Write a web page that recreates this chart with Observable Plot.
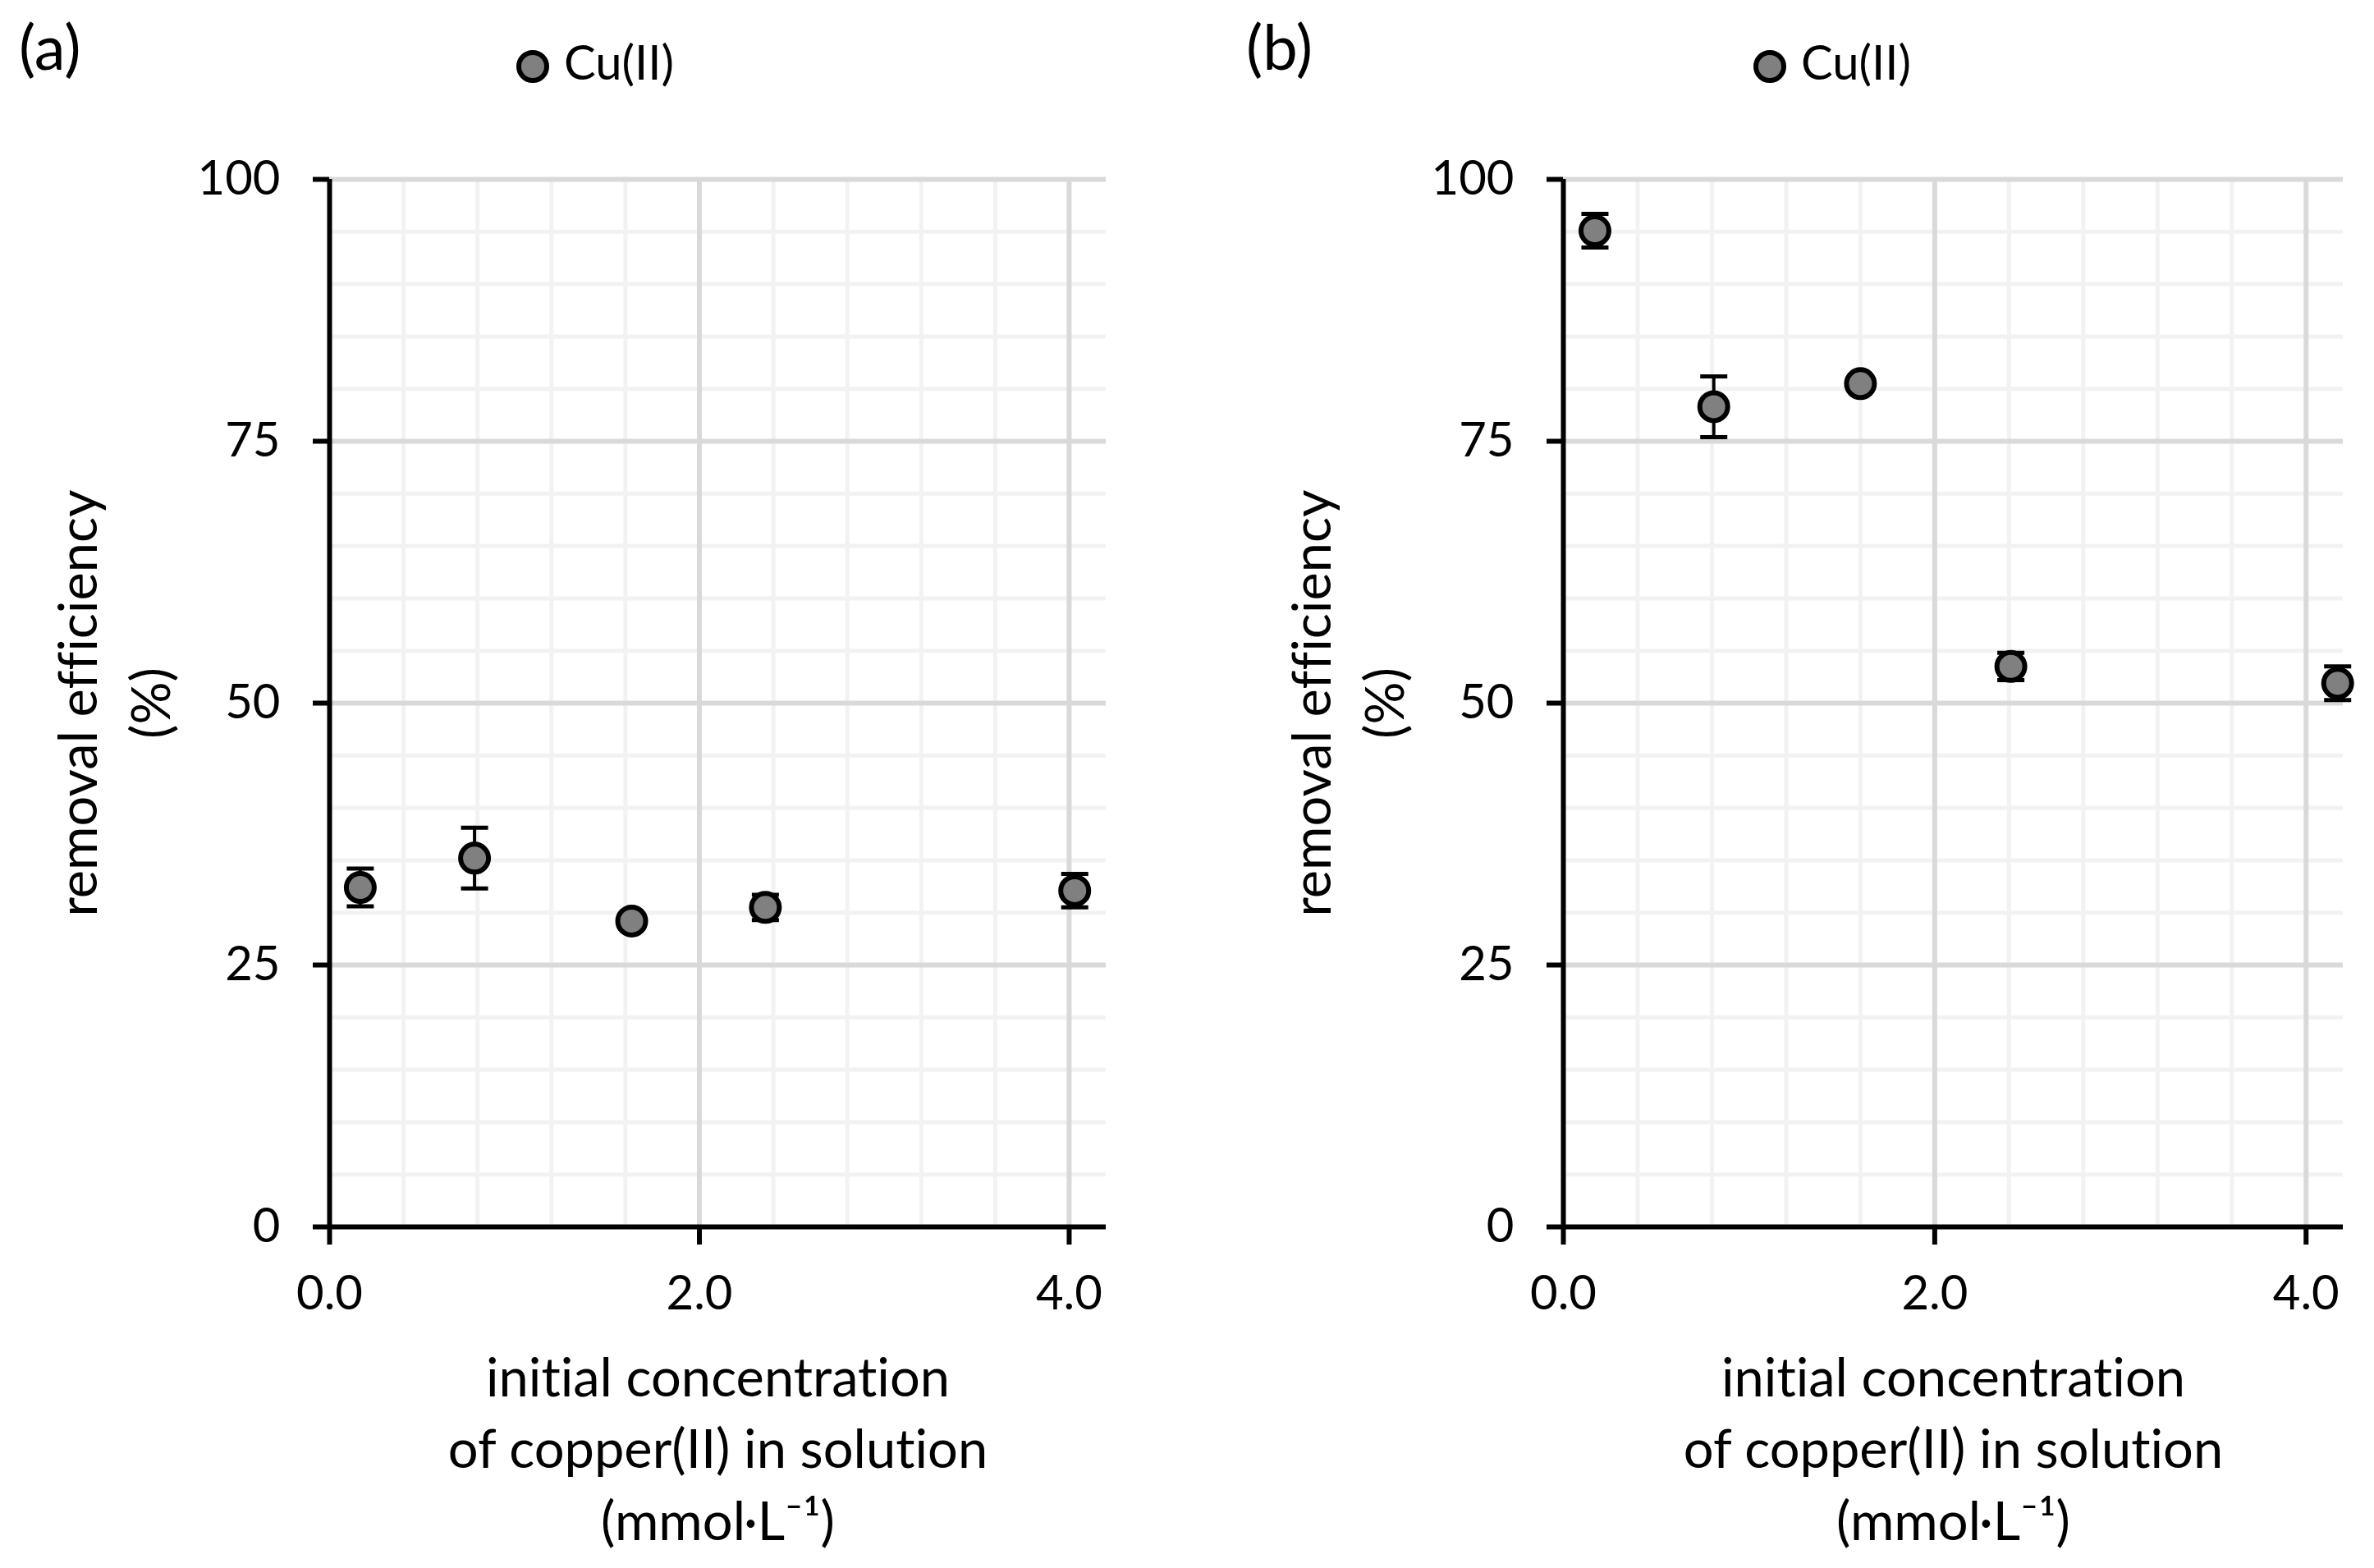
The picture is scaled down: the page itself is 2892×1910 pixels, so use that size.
<!DOCTYPE html>
<html><head><meta charset="utf-8">
<script src="https://cdn.jsdelivr.net/npm/d3@7"></script>
<script src="https://cdn.jsdelivr.net/npm/@observablehq/plot@0.6"></script>
<style>
html,body{margin:0;padding:0;background:#fff;}
#root{display:flex;width:2892px;height:1910px;font-family:Lato, sans-serif;}
.panel{width:1446px;height:1910px;position:relative;}
.panel svg{display:block;}
svg text{font-variant-ligatures:none;font-feature-settings:"liga" 0, "clig" 0, "dlig" 0;}
</style></head><body><div id="root"></div>
<script>
// ---- data ----
const concA = [0.166, 0.784, 1.634, 2.357, 4.03];
const effA  = [32.4, 35.2, 29.2, 30.5, 32.1];
const errA  = [1.8, 2.9, 0.5, 1.2, 1.6];
const concB = [0.17, 0.81, 1.60, 2.41, 4.17];
const effB  = [95.1, 78.3, 80.5, 53.5, 51.9];
const errB  = [1.6, 2.9, 0.5, 1.3, 1.6];
const seriesName = "Cu(II)";
const panelLabels = ["(a)", "(b)"];
const xTicks = [0, 2, 4];
const xMinor = [0.4, 0.8, 1.2, 1.6, 2.4, 2.8, 3.2, 3.6];
const xMajorGrid = [2, 4];
const yTicks = [0, 25, 50, 75, 100];
const yMinor = [5, 10, 15, 20, 30, 35, 40, 45, 55, 60, 65, 70, 80, 85, 90, 95];
const yMajorGrid = [25, 50, 75, 100];
const xDomain = [0, 4.2];
const yDomain = [0, 100];
const yTitle = ["removal efficiency", "(%)"];
const xTitle = "initial concentration\nof copper(II) in solution\n(mmol·L⁻¹)";

const FONT = "Lato, sans-serif";
const FS = 58;      // tick labels, legend
const FT = 65;      // axis titles
const HEADER_H = 150;

const capSymbol = {
  draw(ctx, size) {
    const r = Math.sqrt(size / Math.PI);
    ctx.moveTo(-r, 0);
    ctx.lineTo(r, 0);
  }
};

function panel(conc, eff, err, label, opts) {
  const div = document.createElement("div");
  div.className = "panel";

  // header: panel label + legend
  const head = d3.create("svg").attr("width", 1446).attr("height", HEADER_H)
    .attr("font-family", FONT);
  head.append("text").attr("x", opts.labelX).attr("y", 85)
    .attr("font-size", 76).text(label);
  head.append("circle").attr("cx", opts.legendX).attr("cy", 81).attr("r", 17)
    .attr("fill", "#808080").attr("stroke", "#000").attr("stroke-width", 6);
  head.append("text").attr("x", opts.legendX + 38).attr("y", 97)
    .attr("font-size", FS).text(seriesName);
  div.appendChild(head.node());

  const idx = conc.map((_, i) => i);
  const chart = Plot.plot({
    width: 1446,
    height: 1910 - HEADER_H,
    marginLeft: opts.marginLeft,
    marginRight: opts.marginRight,
    marginTop: 218 - HEADER_H,
    marginBottom: 416,
    x: {domain: xDomain},
    y: {domain: yDomain},
    style: {fontFamily: FONT, fontSize: FS + "px", color: "#000", background: "transparent", overflow: "visible"},
    marks: [
      Plot.ruleX(xMinor, {stroke: "#f2f2f2", strokeWidth: 5}),
      Plot.ruleY(yMinor, {stroke: "#f2f2f2", strokeWidth: 5}),
      Plot.ruleX(xMajorGrid, {stroke: "#d9d9d9", strokeWidth: 6}),
      Plot.ruleY(yMajorGrid, {stroke: "#d9d9d9", strokeWidth: 6}),
      Plot.axisY(yTicks, {tickSize: 20, tickPadding: 40, strokeWidth: 6, fontSize: FS, label: null}),
      Plot.axisX(xTicks, {tickSize: 22, tickPadding: 37, strokeWidth: 6, fontSize: FS, tickFormat: d3.format(".1f"), label: null}),
      Plot.ruleX([0], {stroke: "#000", strokeWidth: 6}),
      Plot.ruleY([0], {stroke: "#000", strokeWidth: 6}),
      Plot.text([yTitle[0]], {text: d => d, frameAnchor: "left", rotate: -90, textAnchor: "middle", lineAnchor: "bottom", dx: -284, fontSize: FT}),
      Plot.text([yTitle[1]], {text: d => d, frameAnchor: "left", rotate: -90, textAnchor: "middle", lineAnchor: "bottom", dx: -195, fontSize: FT}),
      Plot.text([xTitle], {text: d => d, frameAnchor: "bottom", textAnchor: "middle", lineAnchor: "bottom", lineHeight: 1.34, dy: 381, fontSize: FT}),
      Plot.ruleX(idx, {x: i => conc[i], y1: i => eff[i] - err[i], y2: i => eff[i] + err[i], stroke: "#000", strokeWidth: 4}),
      Plot.dot(idx, {x: i => conc[i], y: i => eff[i] + err[i], symbol: capSymbol, r: 16.5, stroke: "#000", strokeWidth: 5, fill: "none"}),
      Plot.dot(idx, {x: i => conc[i], y: i => eff[i] - err[i], symbol: capSymbol, r: 16.5, stroke: "#000", strokeWidth: 5, fill: "none"}),
      Plot.dot(idx, {x: i => conc[i], y: i => eff[i], r: 17, fill: "#808080", stroke: "#000", strokeWidth: 6})
    ]
  });
  div.appendChild(chart);
  return div;
}

const root = document.getElementById("root");
root.appendChild(panel(concA, effA, errA, panelLabels[0], {marginLeft: 401, marginRight: 99, labelX: 23, legendX: 649}));
root.appendChild(panel(concB, effB, errB, panelLabels[1], {marginLeft: 458, marginRight: 38, labelX: 72, legendX: 710}));
</script>
</body></html>
